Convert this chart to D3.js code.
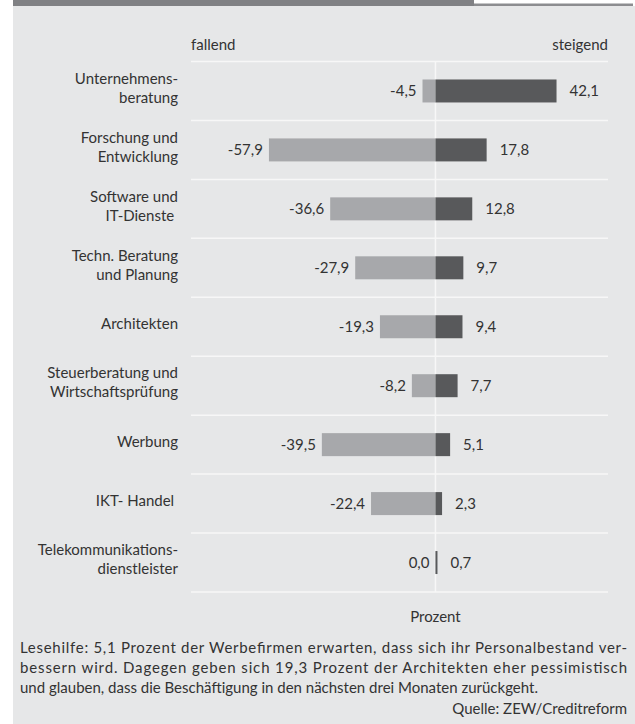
<!DOCTYPE html>
<html><head><meta charset="utf-8">
<script src="https://cdn.jsdelivr.net/npm/d3@7"></script>
<style>
html,body{margin:0;padding:0;background:#fff;}
svg text{font-family:Lato,"Open Sans",sans-serif;fill:#333;font-size:15px;white-space:pre;}
</style></head>
<body><svg id="c" width="635" height="724"></svg>
<script>
const categories = [
  ["Unternehmens-","beratung"],
  ["Forschung und","Entwicklung"],
  ["Software und","IT-Dienste "],
  ["Techn. Beratung","und Planung"],
  ["Architekten"],
  ["Steuerberatung und","Wirtschaftsprüfung"],
  ["Werbung"],
  ["IKT- Handel "],
  ["Telekommunikations-","dienstleister"]
];
const fallend = [-4.5, -57.9, -36.6, -27.9, -19.3, -8.2, -39.5, -22.4, 0.0];
const steigend = [42.1, 17.8, 12.8, 9.7, 9.4, 7.7, 5.1, 2.3, 0.7];
const headLeft = "fallend", headRight = "steigend", unitLabel = "Prozent";
const noteLines = [
  "Lesehilfe: 5,1 Prozent der Werbefirmen erwarten, dass sich ihr Personalbestand ver-",
  "bessern wird. Dagegen geben sich 19,3 Prozent der Architekten eher pessimistisch",
  "und glauben, dass die Beschäftigung in den nächsten drei Monaten zurückgeht."
];
const source = "Quelle: ZEW/Creditreform";

const svg = d3.select("#c");
const locale = d3.formatLocale({decimal: ",", thousands: ".", grouping: [3], currency: ["", " €"], minus: "-"});
const f1 = locale.format(".1f");
const fmt = v => f1(Math.abs(v) < 1e-9 ? 0 : v);

// frame
svg.append("rect").attr("x",13).attr("y",6).attr("width",622).attr("height",718).attr("fill","#e6e7e8");
svg.append("rect").attr("x",13).attr("y",0).attr("width",461).attr("height",6).attr("fill","#808184");
svg.append("rect").attr("x",474).attr("y",3.5).attr("width",159).attr("height",2.5).attr("fill","#8c8d90");

const x = d3.scaleLinear().domain([-85, 60]).range([191, 608]);
const idx = d3.range(categories.length);
const y = d3.scaleBand().domain(idx).range([61.5, 592]).paddingInner(0.61).paddingOuter(0.305);
const step = y.step();
const bounds = d3.range(categories.length + 1).map(i => 61.5 + i * step);

// gridlines
svg.append("g").selectAll("line").data(bounds).join("line")
  .attr("x1", x.range()[0]).attr("x2", x.range()[1])
  .attr("y1", d => d).attr("y2", d => d)
  .attr("stroke", "#f7f7f7").attr("stroke-width", 1.5);
// zero line
svg.append("line").attr("x1", x(0)).attr("x2", x(0)).attr("y1", 61.5).attr("y2", 592)
  .attr("stroke", "#f7f7f7").attr("stroke-width", 1.5);

// bars
svg.append("g").selectAll("rect").data(idx).join("rect")
  .attr("x", i => x(fallend[i])).attr("width", i => x(0) - x(fallend[i]))
  .attr("y", i => y(i)).attr("height", y.bandwidth()).attr("fill", "#a7a8ab");
svg.append("g").selectAll("rect").data(idx).join("rect")
  .attr("x", x(0)).attr("width", i => x(steigend[i]) - x(0))
  .attr("y", i => y(i)).attr("height", y.bandwidth()).attr("fill", "#58595b");

// value labels
svg.append("g").selectAll("text").data(idx).join("text")
  .attr("x", i => x(fallend[i]) - 6).attr("y", i => y(i) + y.bandwidth()/2)
  .attr("dy", "0.35em").attr("text-anchor", "end").text(i => fmt(fallend[i]));
svg.append("g").selectAll("text").data(idx).join("text")
  .attr("x", i => x(steigend[i]) + 13).attr("y", i => y(i) + y.bandwidth()/2)
  .attr("dy", "0.35em").text(i => fmt(steigend[i]));

// category labels
const cl = svg.append("g").selectAll("text").data(idx).join("text")
  .attr("text-anchor", "end")
  .attr("y", i => y(i) + y.bandwidth()/2 - 3);
cl.each(function(i){
  const lines = categories[i];
  const t = d3.select(this);
  lines.forEach((ln, k) => {
    t.append("tspan").attr("x", 178)
     .attr("dy", k === 0 ? ((-(lines.length - 1) * 19 / 2) / 15 + 0.35) + "em" : "19px")
     .text(ln);
  });
});

// headers
svg.append("text").attr("x", x.range()[0]).attr("y", 50).text(headLeft);
svg.append("text").attr("x", x.range()[1]).attr("y", 50).attr("text-anchor","end").text(headRight);
svg.append("text").attr("x", x(0)).attr("y", 622).attr("text-anchor","middle").text(unitLabel);

// note
noteLines.forEach((ln, k) => {
  const t = svg.append("text").attr("x", 20).attr("y", 653 + k * 20).text(ln);
  if (k < 2) t.attr("textLength", 607).attr("lengthAdjust", "spacing");
});
svg.append("text").attr("x", 627).attr("y", 714).attr("text-anchor","end").text(source);
</script></body></html>
